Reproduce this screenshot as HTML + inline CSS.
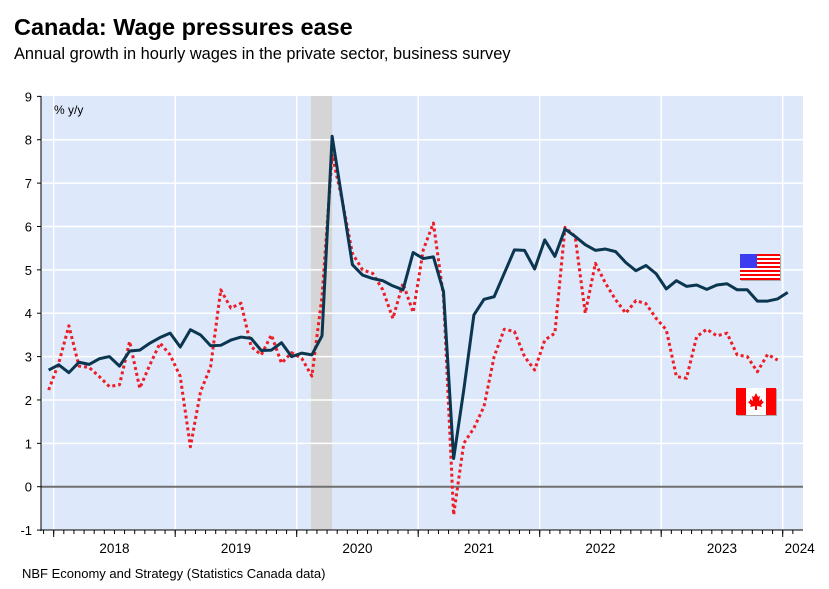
<!DOCTYPE html>
<html><head><meta charset="utf-8"><style>
body{margin:0;background:#fff;font-family:"Liberation Sans",sans-serif;}
#wrap{position:relative;width:829px;height:589px;overflow:hidden;}
</style></head><body>
<div id="wrap">
<svg id="chart" width="829" height="589" xmlns="http://www.w3.org/2000/svg" font-family="Liberation Sans, sans-serif">
<text x="14" y="35" font-size="23.5" font-weight="bold" fill="#000">Canada: Wage pressures ease</text>
<text x="14" y="59" font-size="16.4" fill="#000">Annual growth in hourly wages in the private sector, business survey</text>
<text x="22" y="578" font-size="13" fill="#000">NBF Economy and Strategy (Statistics Canada data)</text>
<rect x="41" y="96" width="762" height="434" fill="#dde8fa"/>
<g id="grid"></g><g id="marks"></g><g id="axes"></g>
<text x="54" y="114" font-size="12" fill="#000">% y/y</text>
</svg>
</div>
<script>
const yTicks=[-1,0,1,2,3,4,5,6,7,8,9];
const years=["2018","2019","2020","2021","2022","2023","2024"];
const usWages=[2.69,2.81,2.63,2.87,2.82,2.95,3.0,2.78,3.13,3.15,3.31,3.44,3.54,3.22,3.62,3.5,3.25,3.26,3.38,3.45,3.42,3.14,3.15,3.32,3.0,3.08,3.04,
3.48,8.08,6.6,5.12,4.88,4.8,4.75,4.63,4.54,5.4,5.26,5.3,4.5,0.65,2.23,3.96,4.32,4.38,4.92,5.46,5.45,5.02,5.69,
5.31,5.94,5.77,5.58,5.45,5.48,5.42,5.17,4.98,5.1,4.91,4.56,4.75,4.62,4.65,4.55,4.65,4.68,4.54,4.54,4.28,4.28,4.33,4.48];
const canadaWages=[2.23,2.85,3.71,2.78,2.75,2.54,2.31,2.35,3.35,2.27,2.81,3.31,3.04,2.54,0.92,2.19,2.77,4.54,4.12,4.23,3.23,3.04,3.5,2.85,3.09,2.96,2.55,
4.38,7.65,6.6,5.38,5.0,4.92,4.54,3.88,4.69,4.02,5.46,6.08,4.38,-0.65,1.0,1.35,1.85,3.0,3.63,3.58,3.0,2.69,3.38,
3.54,5.98,5.77,4.0,5.15,4.69,4.31,4.0,4.29,4.22,3.88,3.62,2.54,2.5,3.46,3.63,3.48,3.54,3.04,3.0,2.65,3.05,2.92];
const firstMonth=-1; // Dec 2017 (month index relative to Jan 2018)
const recessionStart=25, recessionEnd=27; // Feb..Apr 2020

const NS="http://www.w3.org/2000/svg";
const L=41,R=803,T=96,B=530;
const x0=53.7,monthW=10.125;
function xMonth(m){return x0+m*monthW;}
function xPoint(i){return xMonth(firstMonth+i+0.5);}
function y(v){return 486.7-v*43.37;}
function el(tag,attrs,parent){const e=document.createElementNS(NS,tag);for(const k in attrs)e.setAttribute(k,attrs[k]);parent.appendChild(e);return e;}
const grid=document.getElementById('grid'),marks=document.getElementById('marks'),axes=document.getElementById('axes');

const rx0=xMonth(recessionStart+0.5)-1, rx1=xMonth(recessionEnd+0.5);
const rec=el('rect',{x:rx0,y:T,width:rx1-rx0,height:B-T,fill:'#d5d5d5'},grid);



yTicks.forEach(v=>{
  if(v!==0&&v!==9&&v!==-1){const g=el('line',{x1:L,x2:R,y1:y(v),y2:y(v),stroke:'#fff','stroke-width':1.5},grid);
  
  }
  const t=el('text',{x:32,y:y(v)+5,'font-size':13,'text-anchor':'end',fill:'#000'},axes);
  t.textContent=v;
  
  
  el('line',{x1:L-4,x2:L,y1:y(v),y2:y(v),stroke:'#000'},axes);
});
years.forEach((yr,i)=>{
  const xv=xMonth(i*12);
  const g=el('line',{x1:xv,x2:xv,y1:T,y2:B,stroke:'#fff','stroke-width':1.5},grid);
  
  
  el('line',{x1:xv,x2:xv,y1:B,y2:B+7,stroke:'#000'},axes);
  const cx=i<years.length-1?xMonth(i*12+6):xMonth(i*12)+17;
  const t=el('text',{x:cx,y:553,'font-size':13.5,'text-anchor':'middle',fill:'#000'},axes);
  t.textContent=yr;
  
  
});
for(let m=-1;m<=73;m++){const xv=xMonth(m);if(xv<L||xv>R)continue;el('line',{x1:xv,x2:xv,y1:B,y2:B+4,stroke:'#000'},axes);}
el('line',{x1:L,x2:L,y1:T,y2:B+1,stroke:'#000'},axes);
el('line',{x1:L,x2:R,y1:B,y2:B,stroke:'#000'},axes);
const zl=el('line',{x1:L,x2:R,y1:y(0),y2:y(0),stroke:'#707070','stroke-width':2},grid);



const ca=el('polyline',{points:canadaWages.map((v,i)=>xPoint(i)+','+y(v)).join(' '),fill:'none',stroke:'#ee1c25','stroke-width':3,'stroke-dasharray':'3 3','stroke-linejoin':'round'},marks);


const us=el('polyline',{points:usWages.map((v,i)=>xPoint(i)+','+y(v)).join(' '),fill:'none',stroke:'#0b3650','stroke-width':3,'stroke-linejoin':'round'},marks);



const uf=el('g',{},marks);


el('rect',{x:741,y:255,width:40,height:26,fill:'#aaa'},uf);
el('rect',{x:740,y:254,width:40,height:26,fill:'#fff'},uf);
for(let s=0;s<7;s++)el('rect',{x:740,y:254+s*26/6.5,width:40,height:2,fill:'#f00'},uf);
el('rect',{x:740,y:254,width:17,height:14,fill:'#3b3bf0'},uf);
const cf=el('g',{},marks);


el('rect',{x:737,y:389,width:40,height:27,fill:'#aaa'},cf);
el('rect',{x:736,y:388,width:40,height:27,fill:'#fff'},cf);
el('rect',{x:736,y:388,width:10,height:27,fill:'#f00'},cf);
el('rect',{x:766,y:388,width:10,height:27,fill:'#f00'},cf);
el('path',{d:'M756 393 l2 4 2-1 -1 5 3-2 0 2 2 1 -3 3 1 2 -5-1 0 4 -2 0 0-4 -5 1 1-2 -3-3 2-1 0-2 3 2 -1-5 2 1z',fill:'#f00'},cf);
</script>
</body></html>
